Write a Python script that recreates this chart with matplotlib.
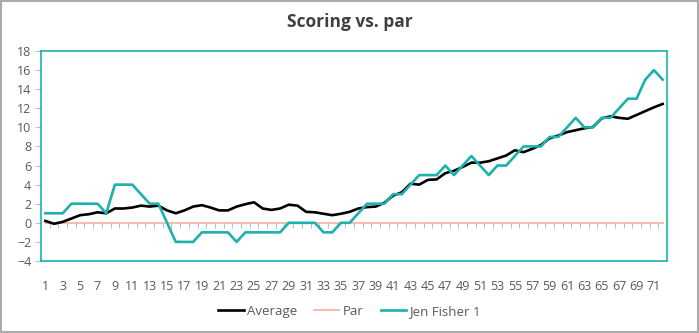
import matplotlib.pyplot as plt
import numpy as np

plt.rcParams['font.family'] = ['Open Sans', 'DejaVu Sans']

holes = list(range(1, 73))

average = [0.2, -0.1, 0.1, 0.45, 0.8, 0.9, 1.1, 1.0, 1.5, 1.5,
           1.6, 1.8, 1.7, 1.8, 1.3, 1.0, 1.3, 1.7, 1.85, 1.6,
           1.3, 1.3, 1.7, 1.95, 2.15, 1.5, 1.35, 1.5, 1.9, 1.8,
           1.15, 1.1, 0.95, 0.8, 0.95, 1.15, 1.5, 1.65, 1.7, 2.1,
           2.85, 3.2, 4.1, 4.0, 4.5, 4.55, 5.2, 5.45, 5.85, 6.3,
           6.3, 6.45, 6.75, 7.05, 7.6, 7.4, 7.75, 8.15, 8.85, 9.15,
           9.5, 9.7, 9.9, 10.05, 10.95, 11.15, 11.0, 10.9, 11.3, 11.7,
           12.1, 12.45]

par = [0] * 72

jen = [1, 1, 1, 2, 2, 2, 2, 1, 4, 4,
       4, 3, 2, 2, 0, -2, -2, -2, -1, -1,
       -1, -1, -2, -1, -1, -1, -1, -1, 0, 0,
       0, 0, -1, -1, 0, 0, 1, 2, 2, 2,
       3, 3, 4, 5, 5, 5, 6, 5, 6, 7,
       6, 5, 6, 6, 7, 8, 8, 8, 9, 9,
       10, 11, 10, 10, 11, 11, 12, 13, 13, 15,
       16, 15]

teal = '#1BB1AD'
grey_txt = '#595959'

fig = plt.figure(figsize=(6.99, 3.33), dpi=100)
ax = fig.add_axes([41 / 699, 1 - 261 / 333, 626 / 699, 210 / 333])

ax.plot(holes, average, color='black', lw=1.9, label='Average', zorder=4)
ax.plot(holes, par, color='#F4B8A6', lw=1.3, label='Par', zorder=3)
ax.plot(holes, jen, color=teal, lw=1.9, label='Jen Fisher 1', zorder=5)

ax.set_xlim(0.5, 72.5)
ax.set_ylim(-4, 18)
ax.set_yticks(np.arange(-4, 19, 2))
ax.set_xticks(holes[::2])
ax.tick_params(axis='x', length=0, labelsize=9, colors=grey_txt, pad=14)
ax.tick_params(axis='y', length=4, color='#BFBFBF', labelsize=9,
               labelcolor=grey_txt, pad=3)
for s in ax.spines.values():
    s.set_color(teal)
    s.set_linewidth(1.2)

# category axis crossing at zero, with tick marks between holes
sec = ax.secondary_xaxis(4 / 22)
sec.set_xticks(np.arange(1.5, 72, 1))
sec.tick_params(length=3.5, color='#BFBFBF', labelbottom=False)
sec.spines['bottom'].set_visible(False)

fig.text(0.5, 0.935, 'Scoring vs. par', ha='center', va='center',
         fontsize=12.5, fontweight='bold', color='#404040')

leg = fig.legend(loc='center', bbox_to_anchor=(0.5, 0.065), ncol=3,
                 frameon=False, fontsize=9.5, handlelength=1.9,
                 handletextpad=0.25, columnspacing=1.3)
for t in leg.get_texts():
    t.set_color(grey_txt)

fig.patches.append(plt.Rectangle((0.001, 0.002), 0.997, 0.995,
                                 transform=fig.transFigure, fill=False,
                                 edgecolor='#ABABAB', lw=1.5))

fig.savefig('out.png', dpi=100)
